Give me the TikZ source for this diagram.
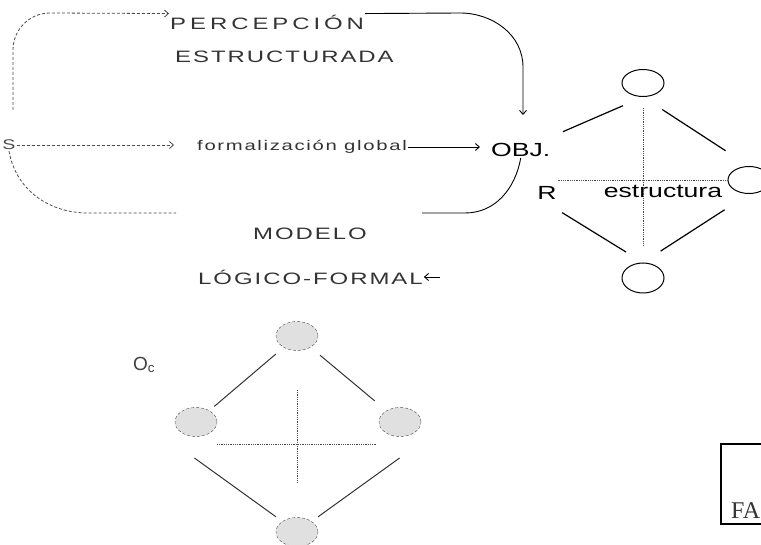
\documentclass[tikz,border=0pt]{standalone}
\usepackage{fontspec}
\setmainfont{Liberation Sans}
\newfontfamily\scanfont[FakeStretch=1.45,LetterSpace=12]{Liberation Sans}
\newfontfamily\widefont[FakeStretch=1.45,LetterSpace=24]{Liberation Sans}
\newfontfamily\plainfont[FakeStretch=1.4]{Liberation Sans}
\newfontfamily\stampfont{Liberation Serif}
\usetikzlibrary{arrows.meta,shapes.geometric}

\begin{document}
\begin{tikzpicture}[x=1pt, y=-1pt,
  scantext/.style={font=\scanfont\fontsize{16.5}{18}\selectfont, text=black!80, inner sep=1pt},
  widetext/.style={font=\widefont\fontsize{16.5}{18}\selectfont, text=black!80, inner sep=1pt},
  smalltext/.style={font=\scanfont\fontsize{14}{16}\selectfont, text=black!80, inner sep=1pt},
  tag/.style={font=\plainfont\fontsize{19}{21}\selectfont, inner sep=1pt},
  ring/.style={ellipse, draw, line width=1pt, minimum width=42pt, minimum height=27pt, inner sep=0pt},
  dotring/.style={ellipse, draw=black!70, densely dashed, fill=black!12, minimum width=42pt, minimum height=29pt, inner sep=0pt},
  edge/.style={line width=1.2pt},
  faintedge/.style={line width=1pt, black!80},
  dots/.style={densely dotted, black!70, line width=0.8pt},
  dashline/.style={densely dashed, black!70, line width=0.8pt},
  dasharrow/.style={dashline, -{Straight Barb[length=4pt,width=7pt]}},
  arrow/.style={line width=0.9pt, -{Straight Barb[length=4pt,width=7pt]}}
]
\useasboundingbox (0,0) rectangle (761,545);
\clip (0,0) rectangle (761,545);
\fill[white] (0,0) rectangle (761,545);

% texts of the loop
\node[widetext, anchor=west] (perc) at (169,22) {PERCEPCIÓN};
\node[scantext, anchor=west] (estr) at (174,57) {ESTRUCTURADA};
\node[font=\plainfont\fontsize{14}{16}\selectfont, text=black!70, inner sep=1pt] (subj) at (9,145) {S};
\node[smalltext, anchor=west] (formal) at (196,147) {formalización global};
\node[tag, anchor=west] (obj) at (490,150) {OBJ.};
\node[scantext] (modelo) at (310,234) {MODELO};
\node[scantext, anchor=west] (logico) at (197,277) {LÓGICO-FORMAL};
\coordinate (c1) at (13,110);
\coordinate (objtop) at (523,115);
\coordinate (mleft) at (176,213);
\coordinate (mright) at (422,213);

% connectors of the loop
\draw[dasharrow] (c1) -- (13,50) to[out=90,in=180] (50,13) -- (perc.north west);
\draw[arrow] (perc.north east) -- (460,13) to[out=0,in=90] (523,67) -- (objtop);
\draw[dasharrow, shorten >=22pt] (subj) -- (formal.west |- subj);
\draw[arrow, shorten >=10pt] (formal.east) -- (obj.west |- formal.east);
\draw[dashline] (subj.south) to[out=-80,in=180] (88,213) -- (mleft);
\draw[line width=0.9pt] (obj.south) to[out=-100,in=0] (465,213) -- (mright);
\draw[arrow] ([xshift=16pt]logico.east) -- (logico.east);

% structure of the object
\node[ring] (rtop) at (643,83) {};
\node[ring] (rright) at (749,180) {};
\node[ring, minimum height=30pt] (rbot) at (643,278) {};
\node[tag, anchor=base] (rnode) at (547,200) {R};
\node[tag, anchor=base] (struct) at (663,198) {estructura};
\coordinate (rleft) at (540,199);
\draw[edge, shorten <=46pt, shorten >=22pt] (obj.center) -- (rtop.south);
\draw[edge, shorten <=23pt, shorten >=28pt] (rtop.south) -- (rright.north);
\draw[edge, shorten <=26pt, shorten >=20pt] (rleft) -- (rbot.north);
\draw[edge, shorten <=21pt, shorten >=29pt] (rbot.north) -- (rright.south);
\draw[dots, shorten <=11pt, shorten >=16pt] (rtop.south) -- (rbot.north);
\draw[dots] (rright.west) -- (rright.west -| rnode.east);

% lower structure
\node[dotring] (ltop) at (297,336) {};
\node[dotring] (lleft) at (196,422) {};
\node[dotring] (lright) at (400,422) {};
\node[dotring] (lbot) at (297,532) {};
\node[font=\fontsize{19}{21}\selectfont, text=black!75, inner sep=1pt] (oc) at (144,365) {O\textsubscript{c}};
\coordinate (lwest) at (175,444);
\coordinate (least) at (419,444);
\draw[faintedge, shorten <=28pt, shorten >=24pt] (ltop.center) -- (lleft.center);
\draw[faintedge, shorten <=30pt, shorten >=33pt] (ltop.center) -- (lright.center);
\draw[faintedge, shorten <=24pt, shorten >=26pt] (lwest) -- (lbot.center);
\draw[faintedge, shorten <=24pt, shorten >=26pt] (least) -- (lbot.center);
\draw[dots, shorten <=54pt, shorten >=50pt] (ltop.center) -- (lbot.center);
\draw[dots, shorten <=42pt, shorten >=42pt] (lwest) -- (least);

% stamp
\node[draw, line width=1.6pt, anchor=north west, minimum width=80pt, minimum height=80pt] (stamp) at (720,443) {};
\node[font=\stampfont\fontsize{24}{26}\selectfont, text=black!80, anchor=base west, inner sep=0pt] (fa) at (731,518) {FA};
\end{tikzpicture}
\end{document}
